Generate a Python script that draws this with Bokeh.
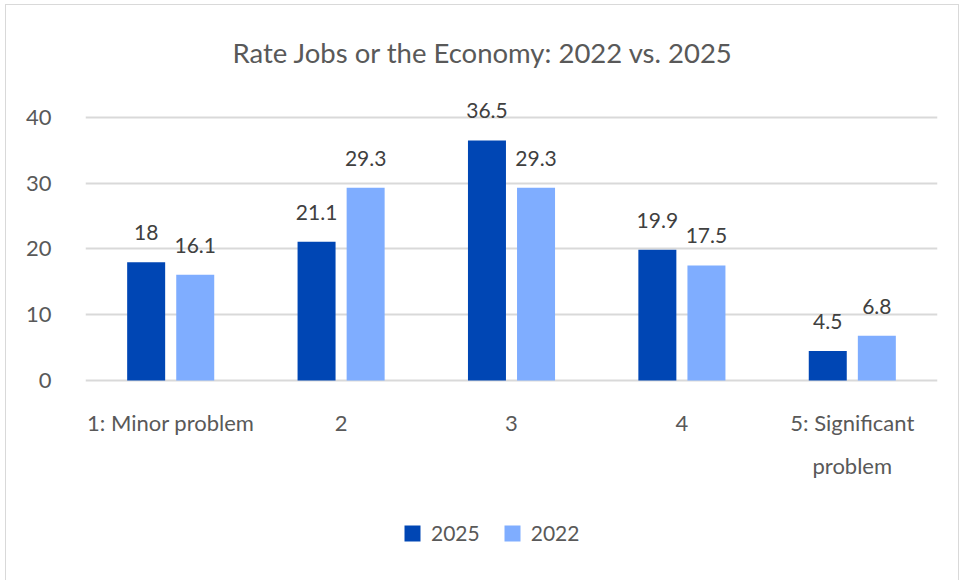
from bokeh.plotting import figure
from bokeh.models import (ColumnDataSource, FactorRange, Range1d, LabelSet, Legend, LegendItem,
                          CategoricalAxis, FixedTicker, Title, CustomJSTickFormatter)
from bokeh.core.properties import value
from bokeh.transform import dodge
from bokeh.embed import file_html
from bokeh.resources import INLINE

categories = ["1: Minor problem", "2", "3", "4", "5: Significant"]
second_line = {"5: Significant": "problem"}
values_2025 = [18, 21.1, 36.5, 19.9, 4.5]
values_2022 = [16.1, 29.3, 29.3, 17.5, 6.8]
labels_2025 = ["18", "21.1", "36.5", "19.9", "4.5"]
labels_2022 = ["16.1", "29.3", "29.3", "17.5", "6.8"]
y_ticks = [0, 10, 20, 30, 40]
title_text = "Rate Jobs or the Economy: 2022 vs. 2025"

FONT = "Lato"
GRAY = "#595959"
DARK = "#0046B4"
LIGHT = "#7FADFF"

src = ColumnDataSource(dict(cat=categories, v25=values_2025, v22=values_2022,
                            l25=labels_2025, l22=labels_2022))

p = figure(frame_width=852, frame_height=483, x_range=FactorRange(*categories),
           y_range=Range1d(-29.66, 43.8),
           output_backend="svg", toolbar_location=None, title=None,
           min_border_left=79, min_border_right=21, min_border_top=87, min_border_bottom=5)
p.margin = (4, 0, 0, 5)
p.styles = {"border": "1px solid #d9d9d9"}
p.outline_line_color = None
p.background_fill_color = "white"
p.border_fill_color = "white"

t = Title(text=title_text, align="left", offset=147, text_font=FONT, text_font_size="27.5px",
          text_font_style="normal", text_color=GRAY, standoff=47)
p.add_layout(t, "above")

r25 = p.vbar(x=dodge("cat", -0.144, range=p.x_range), top="v25", width=0.223, source=src,
             fill_color=DARK, line_color=None)
r22 = p.vbar(x=dodge("cat", 0.144, range=p.x_range), top="v22", width=0.223, source=src,
             fill_color=LIGHT, line_color=None)

for col, off in (("l25", -0.144), ("l22", 0.144)):
    ls = LabelSet(x=dodge("cat", off, range=p.x_range), y=col.replace("l", "v"), text=col,
                  source=src, text_align="center", text_baseline="bottom", y_offset=22,
                  text_font=value(FONT), text_font_size="21px", text_color="#404040")
    p.add_layout(ls)

p.xgrid.grid_line_color = None
p.ygrid.grid_line_color = "#d9d9d9"
p.ygrid.grid_line_width = 2
p.yaxis.ticker = FixedTicker(ticks=y_ticks)
p.yaxis.axis_line_color = None
p.yaxis.major_tick_line_color = None
p.yaxis.minor_tick_line_color = None
p.yaxis.major_label_standoff = 28
p.yaxis.major_label_text_font = FONT
p.yaxis.major_label_text_font_size = "22px"
p.yaxis.major_label_text_color = GRAY

ax = p.xaxis[0]
ax.fixed_location = 0
ax.axis_line_color = None
ax.major_tick_line_color = None
ax.minor_tick_line_color = None
ax.major_label_standoff = 23
ax.major_label_text_font = FONT
ax.major_label_text_font_size = "22px"
ax.major_label_text_color = GRAY

fmt = CustomJSTickFormatter(args=dict(m=second_line),
                            code="return (tick in m) ? m[tick] : ' ';")
ax2 = CategoricalAxis(axis_line_color=None, major_tick_line_color=None, minor_tick_line_color=None,
                      major_label_standoff=66, major_label_text_font=FONT,
                      major_label_text_font_size="22px", major_label_text_color=GRAY,
                      formatter=fmt, fixed_location=0)
p.add_layout(ax2, "below")

legend = Legend(items=[LegendItem(label="2025", renderers=[r25]),
                       LegendItem(label="2022", renderers=[r22])],
                orientation="horizontal", location=(317, 30), glyph_width=20, glyph_height=20,
                label_text_font=FONT, label_text_font_size="21px", label_text_color=GRAY,
                spacing=22, label_standoff=9, border_line_color=None, padding=0, margin=0,
                background_fill_alpha=0)
p.add_layout(legend, "center")

open("out.html", "w").write(file_html(p, INLINE))
